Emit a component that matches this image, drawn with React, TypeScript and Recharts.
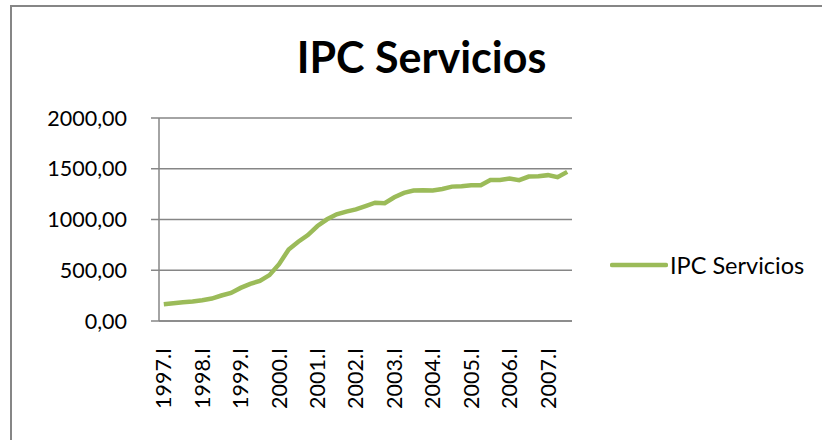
import { LineChart, Line, XAxis, YAxis, CartesianGrid, Legend } from "recharts";

const quarters = [
  "1997.I", "1997.II", "1997.III", "1997.IV",
  "1998.I", "1998.II", "1998.III", "1998.IV",
  "1999.I", "1999.II", "1999.III", "1999.IV",
  "2000.I", "2000.II", "2000.III", "2000.IV",
  "2001.I", "2001.II", "2001.III", "2001.IV",
  "2002.I", "2002.II", "2002.III", "2002.IV",
  "2003.I", "2003.II", "2003.III", "2003.IV",
  "2004.I", "2004.II", "2004.III", "2004.IV",
  "2005.I", "2005.II", "2005.III", "2005.IV",
  "2006.I", "2006.II", "2006.III", "2006.IV",
  "2007.I", "2007.II", "2007.III",
];

const ipcServicios = [
  165, 175, 185, 192, 205, 221, 251, 277, 326, 366, 395,
  452, 560, 705, 781, 847, 936, 1002, 1051, 1077, 1100,
  1133, 1166, 1160, 1219, 1262, 1285, 1288, 1285, 1301,
  1324, 1328, 1338, 1338, 1390, 1390, 1403, 1387, 1423,
  1427, 1437, 1417, 1469,
];

const yTicks = [0, 500, 1000, 1500, 2000];
const seriesName = "IPC Servicios";
const green = "#9BBB59";
const gray = "#868686";
const font = "Lato, 'Liberation Sans', sans-serif";

const data = quarters.map((q, i) => ({ q, x: i + 0.5, v: ipcServicios[i] }));
// tick marks sit between categories, labels every 4th category
const boundaryTicks = quarters.map((_, i) => i).concat(quarters.length);
const labelTicks = data.filter((_, i) => i % 4 === 0).map((d) => d.x);

function QuarterTick(props: any) {
  const { x, y, payload } = props;
  const label = quarters[Math.floor(payload.value)];
  return (
    <text
      x={x}
      y={y}
      transform={`rotate(-90, ${x}, ${y})`}
      textAnchor="end"
      dy="0.35em"
      fontSize={21.5}
      fontFamily={font}
      fill="#000"
    >
      {label}
    </text>
  );
}

function LegendContent() {
  return (
    <div style={{ display: "flex", alignItems: "center", fontFamily: font, fontSize: 23.5 }}>
      <svg width={58} height={10}>
        <line x1={2} y1={5} x2={56} y2={5} stroke={green} strokeWidth={4.5} strokeLinecap="round" />
      </svg>
      <span style={{ marginLeft: 2 }}>{seriesName}</span>
    </div>
  );
}

export default function App() {
  return (
    <div style={{ position: "absolute", left: 0, top: 0, width: 822, height: 440, background: "#fff" }}>
      <div
        style={{
          position: "absolute",
          left: 10,
          top: 5,
          width: 830,
          height: 450,
          borderLeft: `2px solid ${gray}`,
          borderTop: `2px solid ${gray}`,
        }}
      />
      <div
        style={{
          position: "absolute",
          left: 0,
          width: 843,
          top: 27,
          textAlign: "center",
          fontFamily: font,
          fontWeight: 700,
          fontSize: 43,
          lineHeight: "60px",
        }}
      >
        {seriesName}
      </div>
      <div style={{ position: "absolute", left: 0, top: 0 }}>
        <LineChart
          width={822}
          height={440}
          data={data}
          margin={{ top: 118, right: 250, bottom: 9, left: 9 }}
        >
          <CartesianGrid xAxisId="a" vertical={false} stroke={gray} strokeWidth={1.5} />
          <XAxis
            xAxisId="a"
            type="number"
            dataKey="x"
            domain={[0, quarters.length]}
            ticks={boundaryTicks}
            interval={0}
            tick={false}
            tickSize={5}
            height={10}
            axisLine={{ stroke: gray, strokeWidth: 1.5 }}
            tickLine={{ stroke: gray, strokeWidth: 1.2 }}
          />
          <XAxis
            xAxisId="b"
            type="number"
            dataKey="x"
            domain={[0, quarters.length]}
            ticks={labelTicks}
            interval={0}
            tick={<QuarterTick />}
            tickSize={0}
            tickMargin={17}
            height={100}
            axisLine={false}
            tickLine={false}
          />
          <YAxis
            type="number"
            domain={[0, 2000]}
            ticks={yTicks}
            interval={0}
            width={150}
            tickSize={8}
            tickMargin={24}
            tickFormatter={(v: number) => v.toFixed(2).replace(".", ",")}
            tick={{ fill: "#000", fontSize: 21.5, fontFamily: font }}
            axisLine={{ stroke: gray, strokeWidth: 1.5 }}
            tickLine={{ stroke: gray, strokeWidth: 1.5 }}
          />
          <Legend
            layout="vertical"
            align="center"
            verticalAlign="middle"
            content={<LegendContent />}
            wrapperStyle={{ left: 610, top: 251, width: 210 }}
          />
          <Line
            xAxisId="a"
            type="linear"
            dataKey="v"
            name={seriesName}
            stroke={green}
            strokeWidth={4.5}
            dot={false}
            isAnimationActive={false}
          />
        </LineChart>
      </div>
    </div>
  );
}
